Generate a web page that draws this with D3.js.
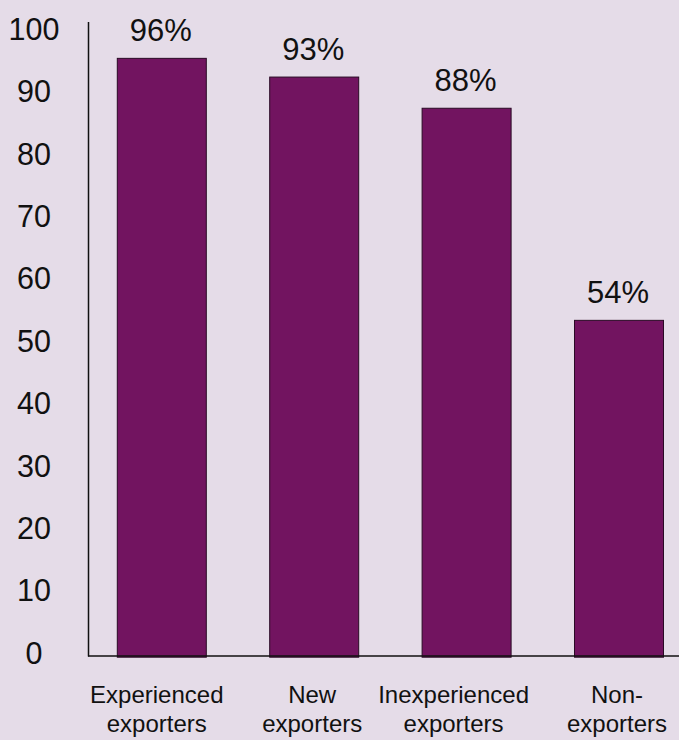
<!DOCTYPE html>
<html>
<head>
<meta charset="utf-8">
<script src="https://cdn.jsdelivr.net/npm/d3@7"></script>
<style>
  html, body { margin: 0; padding: 0; background: #e5dce8; }
  svg { display: block; }
  text { font-family: "Liberation Sans", Arial, Helvetica, sans-serif; fill: #111; }
</style>
</head>
<body>
<script>
const categories = [["Experienced", "exporters"], ["New", "exporters"], ["Inexperienced", "exporters"], ["Non-", "exporters"]];
const values = [96, 93, 88, 54];
const valueLabels = ["96%", "93%", "88%", "54%"];
const yTicks = [0, 10, 20, 30, 40, 50, 60, 70, 80, 90, 100];

const W = 679, H = 740;
const svg = d3.select("body").append("svg").attr("width", W).attr("height", H);
svg.append("rect").attr("width", W).attr("height", H).attr("fill", "#e5dce8");

const x = d3.scaleBand()
  .domain(d3.range(values.length))
  .range([88.5, 692.3])
  .paddingInner(0.416)
  .paddingOuter(0.189);

const y = d3.scaleLinear().domain([0, 100]).range([657.2, 33.4]);

// bars
svg.append("g").selectAll("rect")
  .data(values)
  .join("rect")
  .attr("x", (d, i) => x(i))
  .attr("y", d => y(d))
  .attr("width", x.bandwidth())
  .attr("height", d => y(0) - y(d))
  .attr("fill", "#721460")
  .attr("stroke", "#2a0a25")
  .attr("stroke-width", 1);

// value labels
svg.append("g").selectAll("text")
  .data(values)
  .join("text")
  .attr("x", (d, i) => x(i) + x.bandwidth() / 2 - 1)
  .attr("y", d => y(d) - 17)
  .attr("text-anchor", "middle")
  .style("font-size", "31px")
  .text((d, i) => valueLabels[i]);

// y axis
const yAxis = d3.axisLeft(y).tickValues(yTicks).tickSize(0).tickPadding(0);
const gy = svg.append("g").attr("transform", "translate(34,0)").call(yAxis);
gy.select(".domain").remove();
gy.selectAll("text")
  .attr("x", 0)
  .attr("dy", null)
  .attr("y", -5)
  .attr("dominant-baseline", "central")
  .attr("text-anchor", "middle")
  .attr("fill", "#111")
  .style("font-size", "30.5px")
  .style("font-family", "'Liberation Sans', Arial, sans-serif");

// axis lines
svg.append("line").attr("x1", 88.5).attr("x2", 88.5).attr("y1", 22).attr("y2", 656.5)
  .attr("stroke", "#111").attr("stroke-width", 1.5);
svg.append("line").attr("x1", 88).attr("x2", W).attr("y1", 656).attr("y2", 656)
  .attr("stroke", "#111").attr("stroke-width", 1.5);

// category labels (small horizontal nudges, as in the original layout)
const labelNudge = [-5, -2, -13, -2];
const cat = svg.append("g").selectAll("text")
  .data(categories)
  .join("text")
  .attr("text-anchor", "middle")
  .style("font-size", "24px");
cat.each(function(d, i) {
  const t = d3.select(this);
  const cx = x(i) + x.bandwidth() / 2 + labelNudge[i];
  d.forEach((line, j) => {
    t.append("tspan").attr("x", cx).attr("y", 703 + j * 29).text(line);
  });
});
</script>
</body>
</html>
